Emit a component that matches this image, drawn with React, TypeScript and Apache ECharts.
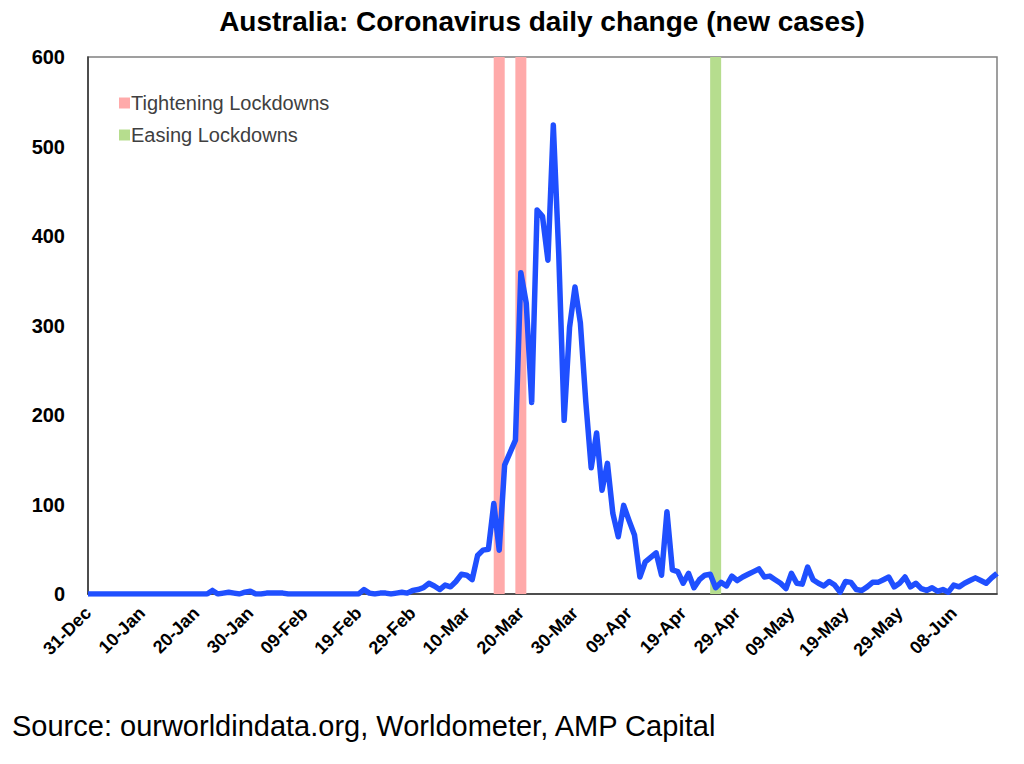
import { useEffect, useRef } from "react";
import * as echarts from "echarts";

// daily new cases, 31-Dec-2019 .. 16-Jun-2020
const newCases = [
	0, 0, 0, 0, 0, 0, 0, 0, 0, 0,
	0, 0, 0, 0, 0, 0, 0, 0, 0, 0,
	0, 0, 0, 4, 0, 1, 2, 1, 0, 2,
	3, 0, 0, 1, 1, 1, 1, 0, 0, 0,
	0, 0, 0, 0, 0, 0, 0, 0, 0, 0,
	0, 5, 1, 0, 1, 1, 0, 1, 2, 1,
	4, 5, 7, 12, 9, 5, 10, 8, 14, 22,
	21, 16, 43, 49, 50, 101, 49, 144, 158, 172,
	359, 325, 214, 429, 422, 373, 524, 380, 194, 298,
	343, 303, 215, 141, 180, 116, 146, 90, 64, 99,
	82, 66, 19, 36, 41, 46, 21, 92, 27, 25,
	12, 23, 7, 16, 21, 22, 7, 13, 9, 20,
	15, 19, 22, 25, 28, 19, 20, 16, 12, 6,
	23, 12, 11, 30, 16, 12, 9, 14, 10, 2,
	14, 13, 5, 4, 8, 13, 13, 16, 19, 8,
	12, 19, 8, 12, 6, 4, 7, 3, 5, 2,
	10, 8, 12, 15, 18, 15, 12, 18, 23,
];

const tighteningDates = ["16-Mar", "20-Mar"];
const easingDates = ["25-Apr"];
const yTicks = [0, 100, 200, 300, 400, 500, 600];

const MONTHS = ["Jan", "Feb", "Mar", "Apr", "May", "Jun", "Jul", "Aug", "Sep", "Oct", "Nov", "Dec"];

// one label per day of data, "DD-Mon"
const dates = newCases.map((_, i) => {
	const d = new Date(Date.UTC(2019, 11, 31 + i));
	return String(d.getUTCDate()).padStart(2, "0") + "-" + MONTHS[d.getUTCMonth()];
});

const FONT = "'Liberation Sans', Arial, sans-serif";

const App: React.FC = () => {
	const chartRef = useRef<HTMLDivElement>(null);

	useEffect(() => {
		if (!chartRef.current) return;
		document.body.style.margin = "0";

		const chart = echarts.init(chartRef.current, null, { renderer: "svg" });
		const yMax = yTicks[yTicks.length - 1];

		chart.setOption({
			animation: false,
			backgroundColor: "#ffffff",
			title: {
				text: "Australia: Coronavirus daily change (new cases)",
				left: 537,
				top: 2,
				textAlign: "center",
				textStyle: { fontFamily: FONT, fontSize: 28, fontWeight: "bold", color: "#000" },
			},
			legend: {
				orient: "vertical",
				left: 114,
				top: 88,
				itemGap: 12,
				itemWidth: 11,
				itemHeight: 11,
				icon: "rect",
				data: ["Tightening Lockdowns", "Easing Lockdowns"],
				textStyle: { fontFamily: FONT, fontSize: 20, color: "#404040", padding: [0, 0, 0, -4] },
			},
			grid: {
				left: 88,
				right: 27,
				top: 57,
				bottom: 170,
				show: true,
				borderColor: "#808080",
				borderWidth: 1.5,
			},
			xAxis: {
				type: "category",
				data: dates,
				boundaryGap: false,
				axisLine: { lineStyle: { color: "#333", width: 1.5 } },
				axisTick: { show: false },
				axisLabel: {
					interval: 9,
					rotate: 45,
					margin: 16,
					fontFamily: FONT,
					fontSize: 18,
					fontWeight: "bold",
					color: "#000",
				},
				splitLine: { show: false },
			},
			yAxis: {
				type: "value",
				min: 0,
				max: yMax,
				interval: 100,
				axisLine: { show: true, lineStyle: { color: "#333", width: 1.5 } },
				axisTick: { show: false },
				axisLabel: {
					margin: 23,
					fontFamily: FONT,
					fontSize: 20,
					fontWeight: "bold",
					color: "#000",
				},
				splitLine: { show: false },
			},
			series: [
				{
					name: "Tightening Lockdowns",
					type: "bar",
					barWidth: 11,
					barGap: "-100%",
					itemStyle: { color: "#ffaaaa" },
					data: dates.map(d => (tighteningDates.includes(d) ? yMax : null)),
					z: 1,
				},
				{
					name: "Easing Lockdowns",
					type: "bar",
					barWidth: 11,
					itemStyle: { color: "#b6dd8e" },
					data: dates.map(d => (easingDates.includes(d) ? yMax : null)),
					z: 1,
				},
				{
					name: "New cases",
					type: "line",
					data: newCases,
					showSymbol: false,
					lineStyle: { color: "#1f4fff", width: 5.5, join: "round" },
					itemStyle: { color: "#1f4fff" },
					z: 3,
				},
			],
			graphic: [
				{
					type: "text",
					left: 12,
					top: 711,
					style: {
						text: "Source: ourworldindata.org, Worldometer, AMP Capital",
						font: `29px ${FONT}`,
						fill: "#000",
					},
				},
			],
		});

		return () => {
			chart.dispose();
		};
	}, []);

	return <div ref={chartRef} style={{ width: "1024px", height: "764px" }} />;
};

export default App;
